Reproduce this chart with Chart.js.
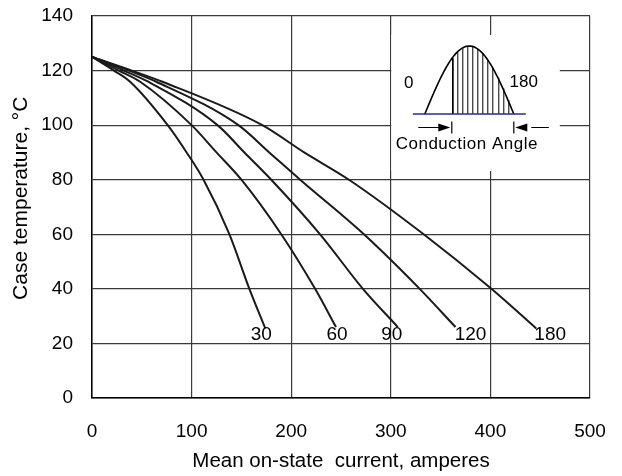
<!DOCTYPE html>
<html>
<head>
<meta charset="utf-8">
<title>Case temperature vs mean on-state current</title>
<script src="https://cdn.jsdelivr.net/npm/chart.js@4.4.1/dist/chart.umd.min.js"></script>
<style>
  html, body { margin: 0; padding: 0; background: #fff; }
  #wrap { width: 622px; height: 476px; }
</style>
</head>
<body>
<div id="wrap"><canvas id="tempChart" width="622" height="476"></canvas></div>
<script>
// case temperature (deg C) levels shared by every curve
const tempLevels = [125, 120, 116, 100, 90, 80, 60, 40];

// mean on-state current (A) at each temperature level, per conduction angle
const amps30 = [0, 22, 38, 76, 95, 112, 138, 158];
const amps60 = [0, 27, 48, 100, 125, 150, 190, 224];
const amps90 = [0, 32, 56, 126, 153, 180, 229, 272];
const amps120 = [0, 37, 64, 147, 178, 209, 273, 329];
const amps180 = [0, 40, 70, 171, 213, 258, 333, 401];

// where each curve stops
const endAmps = [174, 245, 307, 365, 446];
const endTemps = [25.5, 26, 26, 26, 25.5];

const angleNames = ["30", "60", "90", "120", "180"];
const labelAmps = [170, 246, 301, 380, 460];
const labelTemp = 23;

const xTicks = [0, 100, 200, 300, 400, 500];
const yTicks = [0, 20, 40, 60, 80, 100, 120, 140];

const FONT = "'Liberation Sans', Arial, Helvetica, sans-serif";
Chart.defaults.font.family = FONT;
Chart.defaults.color = "#000";

function curve(amps, i) {
  const pts = amps.map((a, k) => ({ x: a, y: tempLevels[k] }));
  pts.push({ x: endAmps[i], y: endTemps[i] });
  return pts;
}

const seriesAmps = [amps30, amps60, amps90, amps120, amps180];
const datasets = seriesAmps.map((amps, i) => ({
  label: angleNames[i],
  data: curve(amps, i),
  borderColor: "#1a1a1a",
  borderWidth: 2,
  pointRadius: 0,
  cubicInterpolationMode: "monotone",
  fill: false,
}));

// angle numbers next to the curve ends
const curveLabels = {
  id: "curveLabels",
  afterDatasetsDraw(chart) {
    const { ctx, scales } = chart;
    ctx.save();
    ctx.font = "19px " + FONT;
    ctx.fillStyle = "#000";
    ctx.textAlign = "center";
    ctx.textBaseline = "middle";
    angleNames.forEach((name, i) => {
      ctx.fillText(name, scales.x.getPixelForValue(labelAmps[i]), scales.y.getPixelForValue(labelTemp));
    });
    ctx.restore();
  },
};

// small conduction angle sketch in the upper right
const conductionInset = {
  id: "conductionInset",
  beforeDatasetsDraw(chart) {
    const { ctx, scales } = chart;
    const ox = scales.x.getPixelForValue(300) + 78.5;
    const oy = scales.y.getPixelForValue(140) + 98;
    ctx.save();
    ctx.translate(ox, oy);

    // blank panel over the grid
    ctx.fillStyle = "#fff";
    ctx.fillRect(-78, -79, 168.5, 136);

    const halfW = 44.5;
    const h = 68;
    const xAt = (deg) => -halfW + (deg / 180) * 2 * halfW;
    const yAt = (deg) => -h * Math.sin((deg * Math.PI) / 180);

    // hatching over the conducting part
    ctx.strokeStyle = "#000";
    ctx.lineWidth = 1;
    for (let k = 0; k < 12; k++) {
      const deg = 55 + k * 10.3;
      const x = Math.round(xAt(deg)) + 0.5;
      ctx.beginPath();
      ctx.moveTo(x, 0);
      ctx.lineTo(x, yAt(deg));
      ctx.stroke();
    }
    ctx.lineWidth = 1.6;
    ctx.beginPath();
    ctx.moveTo(Math.round(xAt(55)) + 0.5, 0);
    ctx.lineTo(Math.round(xAt(55)) + 0.5, yAt(55));
    ctx.stroke();

    // half sine wave
    ctx.lineWidth = 1.6;
    ctx.beginPath();
    for (let d = 0; d <= 180; d += 3) {
      if (d === 0) ctx.moveTo(xAt(d), yAt(d));
      else ctx.lineTo(xAt(d), yAt(d));
    }
    ctx.stroke();

    // zero line
    ctx.strokeStyle = "#2b2b8c";
    ctx.lineWidth = 1.6;
    ctx.beginPath();
    ctx.moveTo(-56.5, 0);
    ctx.lineTo(56.5, 0);
    ctx.stroke();

    // arrows marking the conduction angle
    ctx.strokeStyle = "#000";
    ctx.fillStyle = "#000";
    ctx.lineWidth = 1.2;
    const ay = 13.5;
    ctx.beginPath();
    ctx.moveTo(-51, ay);
    ctx.lineTo(-28, ay);
    ctx.moveTo(62, ay);
    ctx.lineTo(79.5, ay);
    ctx.moveTo(-17.5, ay - 6);
    ctx.lineTo(-17.5, ay + 6);
    ctx.moveTo(44.5, ay - 6);
    ctx.lineTo(44.5, ay + 6);
    ctx.stroke();
    ctx.beginPath();
    ctx.moveTo(-19, ay);
    ctx.lineTo(-31, ay - 4);
    ctx.lineTo(-31, ay + 4);
    ctx.closePath();
    ctx.moveTo(46, ay);
    ctx.lineTo(58, ay - 4);
    ctx.lineTo(58, ay + 4);
    ctx.closePath();
    ctx.fill();

    ctx.font = "17px " + FONT;
    ctx.textAlign = "center";
    ctx.textBaseline = "middle";
    ctx.fillText("0", -60.5, -31);
    ctx.fillText("180", 54.5, -32);
    ctx.letterSpacing = "0.5px";
    ctx.fillText("Conduction Angle", -2.5, 30);
    ctx.restore();
  },
};

const ctx = document.getElementById("tempChart").getContext("2d");
new Chart(ctx, {
  type: "line",
  data: { datasets },
  options: {
    responsive: false,
    devicePixelRatio: 1,
    animation: false,
    layout: { padding: { top: 16, right: 32, bottom: 0, left: 0 } },
    plugins: {
      legend: { display: false },
      tooltip: { enabled: false },
    },
    scales: {
      x: {
        type: "linear",
        min: 0,
        max: 500,
        afterFit: (s) => { s.height = 78; },
        afterBuildTicks: (s) => { s.ticks = xTicks.map((v) => ({ value: v })); },
        ticks: { padding: 0, font: { size: 19 }, color: "#000" },
        grid: { color: "#3a3a3a", lineWidth: 1.2, tickLength: 22, tickColor: "rgba(0,0,0,0)" },
        border: { color: "#000", width: 1.5 },
        title: {
          display: true,
          text: "Mean on-state  current, amperes",
          font: { size: 20.5 },
          color: "#000",
          padding: { bottom: 2 },
        },
      },
      y: {
        min: 0,
        max: 140,
        afterFit: (s) => { s.width = 92; },
        afterBuildTicks: (s) => { s.ticks = yTicks.map((v) => ({ value: v })); },
        ticks: { padding: 0, font: { size: 19 }, color: "#000" },
        grid: { color: "#3a3a3a", lineWidth: 1.2, tickLength: 19, tickColor: "rgba(0,0,0,0)" },
        border: { color: "#000", width: 1.5 },
        title: {
          display: true,
          text: "   Case temperature, °C",
          font: { size: 21 },
          color: "#000",
          padding: { top: 9 },
        },
      },
    },
  },
  plugins: [conductionInset, curveLabels],
});
</script>
</body>
</html>
